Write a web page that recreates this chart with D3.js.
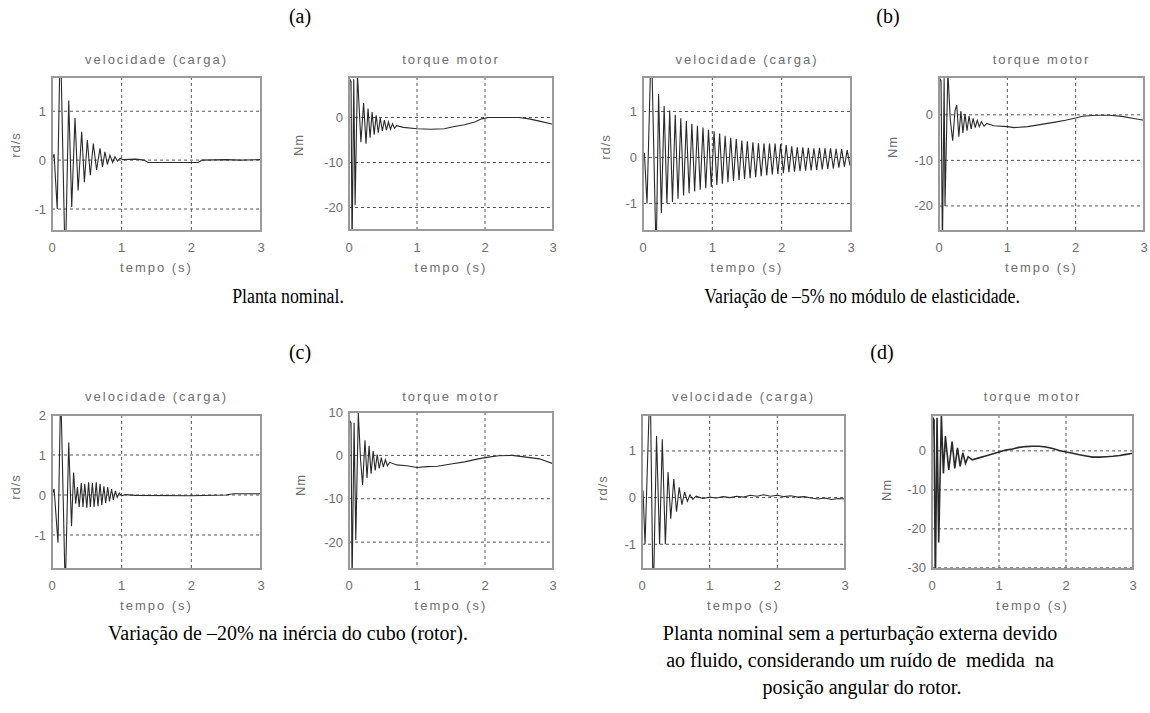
<!DOCTYPE html>
<html>
<head>
<meta charset="utf-8">
<script src="https://cdn.jsdelivr.net/npm/d3@7/dist/d3.min.js"></script>
<style>
  body { margin: 0; background: #fff; }
  svg { display: block; }
  .ax text { font-family: "Liberation Sans", Arial, sans-serif; font-size: 13px; fill: #6e6e6e; }
  .ax .lbl { letter-spacing: 2px; }
  .ax .ylbl { letter-spacing: 1px; }
  .cap { font-family: "Liberation Serif", "Times New Roman", "DejaVu Serif", serif; fill: #000; white-space: pre; }
</style>
</head>
<body>
<svg id="fig" width="1150" height="713"></svg>
<script>
// ---- data: [tempo (s), valor] ----
var timeTicks = [0, 1, 2, 3];
var velTicks = [-1, 0, 1];
var velTicksC = [-1, 0, 1, 2];
var torTicks = [-20, -10, 0];
var torTicksC = [-20, -10, 0, 10];
var torTicksD = [-30, -20, -10, 0];

// (a) planta nominal
var velA = [[0,0],[0.03,0.12],[0.075,-1.0],[0.12,2.6],[0.19,-2.2],[0.24,1.22],[0.283,-0.96],[0.33,0.86],[0.375,-0.62],[0.426,0.58],[0.465,-0.45],[0.507,0.41],[0.55,-0.31],[0.593,0.34],[0.64,-0.2],[0.689,0.24],[0.725,-0.14],[0.76,0.17],[0.795,-0.09],[0.832,0.1],[0.87,-0.05],[0.904,0.07],[0.94,-0.02],[0.98,0.04],[1.02,0.01],[1.2,0.02],[1.32,0.0],[1.38,-0.05],[2.1,-0.05],[2.15,0.0],[2.5,0.01],[2.7,0.0],[3.0,0.01]];
var torA = [[0,0],[0.01,8.5],[0.03,8],[0.045,-30],[0.07,8.5],[0.09,-19.5],[0.125,9.5],[0.16,-1],[0.175,-5.5],[0.215,3.2],[0.25,-5.8],[0.28,2.0],[0.31,-4.5],[0.34,1.2],[0.37,-3.8],[0.4,0.5],[0.43,-3.4],[0.46,-0.1],[0.49,-3.0],[0.52,-0.6],[0.55,-2.8],[0.58,-1.0],[0.61,-2.6],[0.64,-1.4],[0.67,-2.4],[0.7,-1.8],[0.8,-2.2],[1.0,-2.5],[1.2,-2.6],[1.4,-2.5],[1.55,-2.0],[1.7,-1.6],[1.85,-1.0],[1.95,-0.3],[2.05,0.0],[2.3,0.0],[2.5,0.0],[2.65,-0.3],[2.8,-0.8],[3.0,-1.5]];

// (b) -5% no modulo de elasticidade
var velB = [[0,0],[0.02,0.1],[0.058,-1.0],[0.12,2.6],[0.19,-2.2],[0.225,1.38],[0.265,-1.21],[0.305,1.12],[0.345,-1.0],[0.385,1.02],[0.425,-0.97],[0.465,0.93],[0.505,-0.9],[0.545,0.85],[0.585,-0.83],[0.625,0.79],[0.665,-0.78],[0.705,0.73],[0.745,-0.74],[0.785,0.69],[0.825,-0.7],[0.865,0.65],[0.905,-0.67],[0.945,0.6],[0.985,-0.64],[1.025,0.57],[1.065,-0.6],[1.105,0.52],[1.145,-0.57],[1.185,0.47],[1.225,-0.54],[1.265,0.43],[1.305,-0.51],[1.345,0.4],[1.385,-0.49],[1.425,0.37],[1.465,-0.47],[1.505,0.35],[1.545,-0.45],[1.585,0.33],[1.625,-0.43],[1.665,0.31],[1.705,-0.41],[1.745,0.3],[1.785,-0.39],[1.825,0.3],[1.865,-0.37],[1.905,0.3],[1.945,-0.36],[1.985,0.29],[2.025,-0.34],[2.065,0.27],[2.105,-0.32],[2.145,0.24],[2.185,-0.31],[2.225,0.22],[2.265,-0.3],[2.305,0.22],[2.345,-0.29],[2.385,0.21],[2.425,-0.28],[2.465,0.2],[2.505,-0.27],[2.545,0.21],[2.585,-0.26],[2.625,0.2],[2.665,-0.25],[2.705,0.2],[2.745,-0.24],[2.785,0.19],[2.825,-0.22],[2.865,0.18],[2.905,-0.2],[2.945,0.16],[2.985,-0.18],[3.0,-0.1]];
var torB = [[0,0],[0.01,8],[0.03,7.5],[0.05,-30],[0.075,8],[0.088,-20],[0.13,9.5],[0.165,-1],[0.2,-5.7],[0.235,1],[0.26,2.1],[0.29,-4.8],[0.32,0.8],[0.35,-4.0],[0.38,0.2],[0.41,-3.5],[0.44,-0.3],[0.47,-3.1],[0.5,-0.8],[0.53,-2.8],[0.56,-1.2],[0.59,-2.6],[0.62,-1.5],[0.66,-2.5],[0.7,-1.9],[0.8,-2.4],[1.0,-2.6],[1.1,-2.8],[1.3,-2.6],[1.5,-2.1],[1.7,-1.6],[1.85,-1.2],[2.0,-0.7],[2.1,-0.3],[2.3,-0.1],[2.5,-0.1],[2.7,-0.4],[2.85,-0.8],[3.0,-1.2]];

// (c) -20% na inercia do cubo
var velC = [[0,0],[0.03,0.15],[0.086,-1.19],[0.125,2.7],[0.19,-2.4],[0.24,1.31],[0.28,-0.78],[0.31,0.56],[0.34,-0.22],[0.365,0.2],[0.39,-0.3],[0.42,0.3],[0.445,-0.3],[0.47,0.28],[0.5,-0.32],[0.525,0.32],[0.55,-0.3],[0.58,0.3],[0.605,-0.3],[0.635,0.32],[0.66,-0.28],[0.69,0.28],[0.715,-0.25],[0.745,0.22],[0.77,-0.2],[0.8,0.2],[0.825,-0.16],[0.855,0.15],[0.88,-0.12],[0.91,0.1],[0.935,-0.06],[0.965,0.05],[1.0,-0.02],[1.05,0.01],[1.2,-0.01],[2.0,-0.02],[2.5,0.0],[2.6,0.03],[3.0,0.03]];
var torC = [[0,0],[0.01,8],[0.03,7.5],[0.045,-30],[0.075,7.5],[0.1,-19.5],[0.137,9.8],[0.17,-1],[0.2,-6.8],[0.235,3.5],[0.265,-5.2],[0.295,2.2],[0.325,-4.2],[0.355,1.0],[0.385,-3.5],[0.415,0.2],[0.445,-3.0],[0.475,-0.5],[0.505,-2.7],[0.535,-1.0],[0.565,-2.4],[0.6,-1.6],[0.7,-2.2],[0.85,-2.4],[1.0,-2.8],[1.15,-2.6],[1.3,-2.5],[1.5,-2.0],[1.7,-1.5],[1.9,-0.8],[2.05,-0.4],[2.2,-0.1],[2.4,0.0],[2.6,-0.4],[2.8,-0.8],[3.0,-1.9]];

// (d) sem perturbacao externa, com ruido de medida
var velD = [[0,0],[0.015,0.15],[0.045,-1.0],[0.12,2.6],[0.165,-2.3],[0.215,1.32],[0.26,-1.0],[0.3,1.25],[0.345,-1.0],[0.385,0.55],[0.425,-0.45],[0.47,0.4],[0.51,-0.3],[0.55,0.22],[0.59,-0.15],[0.63,0.12],[0.67,-0.08],[0.71,0.06],[0.75,-0.04],[0.8,0.03],[0.9,-0.02],[1.0,0.01],[1.1,-0.01],[1.2,0.02],[1.3,0.0],[1.4,0.03],[1.5,0.01],[1.6,0.05],[1.7,0.03],[1.8,0.06],[1.9,0.03],[2.0,0.05],[2.1,0.02],[2.2,0.04],[2.3,0.01],[2.4,0.02],[2.5,-0.01],[2.6,-0.03],[2.7,-0.01],[2.8,-0.04],[2.9,-0.02],[3.0,-0.03]];
var torD = [[0,0],[0.01,8.5],[0.03,8],[0.05,-35],[0.075,8.5],[0.1,-23.5],[0.14,9],[0.17,-5.8],[0.2,3.8],[0.25,-4.9],[0.3,2.4],[0.34,-4.5],[0.38,0.8],[0.42,-4.0],[0.46,-0.5],[0.5,-3.2],[0.54,-1.5],[0.6,-2.3],[0.7,-1.8],[0.8,-1.3],[0.9,-0.8],[1.0,-0.3],[1.1,0.2],[1.2,0.5],[1.3,0.9],[1.4,1.1],[1.5,1.2],[1.6,1.2],[1.7,1.0],[1.8,0.6],[1.9,0.1],[2.0,-0.3],[2.1,-0.6],[2.2,-1.0],[2.3,-1.3],[2.4,-1.6],[2.5,-1.6],[2.6,-1.5],[2.7,-1.4],[2.8,-1.2],[2.9,-0.9],[3.0,-0.6]];

// ---- layout of the eight axes ----
var panels = [
  {data: velA, dom: [-1.45, 1.7], ticks: velTicks, title: "velocidade (carga)", ylab: "rd/s", x0: 52, x1: 261, y0: 77, y1: 231, labX: 15, labY: 145, row: 0},
  {data: torA, dom: [-25, 9], ticks: torTicks, title: "torque motor", ylab: "Nm", x0: 349, x1: 553, y0: 77, y1: 230, labX: 298, labY: 145, row: 0},
  {data: velB, dom: [-1.6, 1.75], ticks: velTicks, title: "velocidade (carga)", ylab: "rd/s", x0: 643, x1: 851, y0: 77, y1: 231, labX: 605, labY: 147, row: 0},
  {data: torB, dom: [-25.5, 8.3], ticks: torTicks, title: "torque motor", ylab: "Nm", x0: 939, x1: 1144, y0: 77, y1: 231, labX: 892, labY: 147, row: 0},
  {data: velC, dom: [-1.85, 2], ticks: velTicksC, title: "velocidade (carga)", ylab: "rd/s", x0: 52, x1: 261, y0: 415, y1: 569, labX: 15, labY: 487, row: 1},
  {data: torC, dom: [-26.2, 10], ticks: torTicksC, title: "torque motor", ylab: "Nm", x0: 349, x1: 553, y0: 412, y1: 569, labX: 300, labY: 485, row: 1},
  {data: velD, dom: [-1.53, 1.77], ticks: velTicks, title: "velocidade (carga)", ylab: "rd/s", x0: 642, x1: 845, y0: 415, y1: 569, labX: 602, labY: 488, row: 1},
  {data: torD, dom: [-30.3, 9.2], ticks: torTicksD, title: "torque motor", ylab: "Nm", x0: 932, x1: 1133, y0: 415, y1: 569, labX: 886, labY: 490, row: 1, heavy: true}
];
var rowText = [
  {title: 64, tick: 252, xlab: 272},
  {title: 401, tick: 590, xlab: 610}
];

var svg = d3.select("#fig");
var defs = svg.append("defs");
var fmt = function (d) { return String(d); };

panels.forEach(function (p, i) {
  var x = d3.scaleLinear().domain([0, 3]).range([p.x0, p.x1]);
  var y = d3.scaleLinear().domain(p.dom).range([p.y1, p.y0]);
  var rt = rowText[p.row];
  var g = svg.append("g").attr("class", "ax");

  defs.append("clipPath").attr("id", "clip" + i)
    .append("rect")
    .attr("x", p.x0).attr("y", p.y0)
    .attr("width", p.x1 - p.x0).attr("height", p.y1 - p.y0);

  // grid
  g.selectAll(".gx").data(timeTicks.slice(1, -1)).enter().append("line")
    .attr("x1", d => x(d)).attr("x2", d => x(d))
    .attr("y1", p.y0).attr("y2", p.y1)
    .attr("stroke", "#555").attr("stroke-width", 1).attr("stroke-dasharray", "3,3");
  g.selectAll(".gy").data(p.ticks).enter().append("line")
    .attr("x1", p.x0).attr("x2", p.x1)
    .attr("y1", d => y(d)).attr("y2", d => y(d))
    .attr("stroke", "#555").attr("stroke-width", 1).attr("stroke-dasharray", "3,3");

  // signal
  var line = d3.line().x(d => x(d[0])).y(d => y(d[1]));
  g.append("path")
    .datum(p.data)
    .attr("clip-path", "url(#clip" + i + ")")
    .attr("fill", "none")
    .attr("stroke", "#2a2a2a")
    .attr("stroke-width", p.heavy ? 1.6 : 1.1)
    .attr("d", line);

  // frame
  g.append("rect")
    .attr("x", p.x0).attr("y", p.y0)
    .attr("width", p.x1 - p.x0).attr("height", p.y1 - p.y0)
    .attr("fill", "none").attr("stroke", "#9a9a9a").attr("stroke-width", 2);

  // tick labels
  g.selectAll(".tx").data(timeTicks).enter().append("text")
    .attr("x", d => x(d)).attr("y", rt.tick)
    .attr("text-anchor", "middle")
    .text(fmt);
  g.selectAll(".ty").data(p.ticks).enter().append("text")
    .attr("x", p.x0 - 6).attr("y", d => y(d)).attr("dy", "0.35em")
    .attr("text-anchor", "end")
    .text(fmt);

  // titles and labels
  g.append("text").attr("class", "lbl")
    .attr("x", (p.x0 + p.x1) / 2).attr("y", rt.title)
    .attr("text-anchor", "middle").text(p.title);
  g.append("text").attr("class", "lbl")
    .attr("x", (p.x0 + p.x1) / 2).attr("y", rt.xlab)
    .attr("text-anchor", "middle").text("tempo (s)");
  g.append("text").attr("class", "ylbl")
    .attr("transform", "translate(" + p.labX + "," + p.labY + ") rotate(-90)")
    .attr("dy", "0.35em")
    .attr("text-anchor", "middle").text(p.ylab);
});

// captions (size, horizontal squeeze)
var captions = [
  {t: "(a)", x: 300, y: 23, s: 20, k: 1},
  {t: "(b)", x: 888, y: 23, s: 20, k: 1},
  {t: "Planta nominal.", x: 288, y: 303, s: 20, k: 0.89},
  {t: "Variação de –5% no módulo de elasticidade.", x: 862, y: 303, s: 20, k: 0.89},
  {t: "(c)", x: 300, y: 359, s: 20, k: 1},
  {t: "(d)", x: 882, y: 359, s: 20, k: 1},
  {t: "Variação de –20% na inércia do cubo (rotor).", x: 288, y: 640, s: 20, k: 1},
  {t: "Planta nominal sem a perturbação externa devido", x: 860, y: 640, s: 20, k: 1},
  {t: "ao fluido, considerando um ruído de  medida  na", x: 860, y: 667, s: 20, k: 1},
  {t: "posição angular do rotor.", x: 862, y: 694, s: 20, k: 1}
];
svg.selectAll(".cap").data(captions).enter().append("text")
  .attr("class", "cap")
  .attr("transform", d => "translate(" + d.x + "," + d.y + ") scale(" + d.k + ",1)")
  .attr("font-size", d => d.s)
  .attr("text-anchor", "middle")
  .text(d => d.t);
</script>
</body>
</html>
